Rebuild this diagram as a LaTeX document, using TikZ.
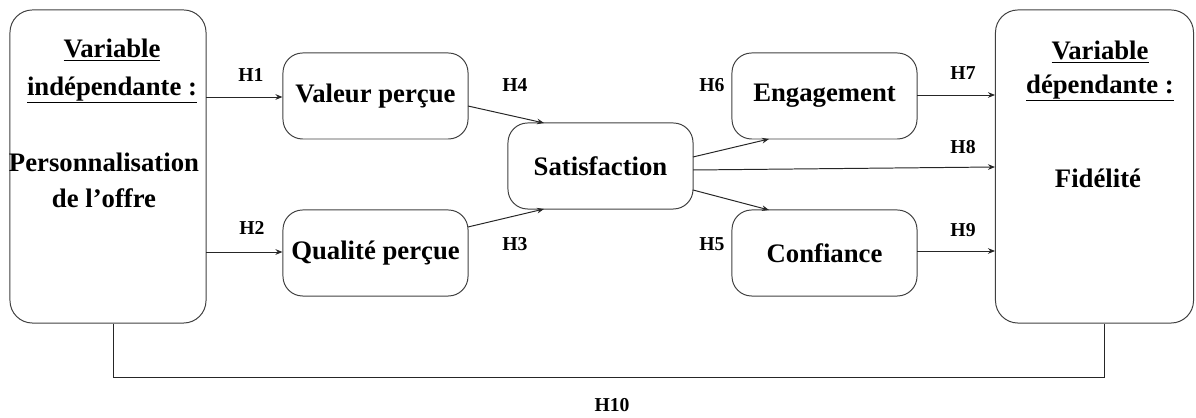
\documentclass[tikz,border=0pt]{standalone}
\usepackage{fontspec}
\setmainfont{Liberation Serif}
\usetikzlibrary{arrows.meta}
\begin{document}
\begin{tikzpicture}[x=0.025cm,y=-0.025cm,
  box/.style={draw=black!75,line width=0.7pt,rounded corners=14pt,inner sep=0pt},
  bigbox/.style={draw=black!75,line width=0.7pt,rounded corners=16pt,inner sep=0pt,minimum width=4.95cm,minimum height=7.825cm},
  smallbox/.style={box,minimum width=4.625cm,minimum height=2.15cm,font=\bfseries\fontsize{19}{22}\selectfont},
  txt/.style={font=\bfseries\fontsize{19}{22}\selectfont,inner sep=0pt},
  hlab/.style={font=\bfseries\fontsize{14}{16}\selectfont,inner sep=0pt},
  arr/.style={draw=black!85,line width=0.7pt,-{Stealth[length=5pt,width=4pt]}},
  lin/.style={draw=black!85,line width=0.7pt}]
\useasboundingbox (0,0) rectangle (1196,418);
% boxes
\node[bigbox,minimum width=4.9cm] (iv) at (108,166.5) {};
\node[bigbox] (dv) at (1094.5,166.5) {};
\node[smallbox] (val) at (375.5,96) {Valeur perçue};
\node[smallbox] (qual) at (375.5,253) {Qualité perçue};
\node[smallbox] (sat) at (600.5,166) {Satisfaction};
\node[smallbox] (eng) at (824.5,96) {Engagement};
\node[smallbox] (conf) at (824.5,253) {Confiance};
% texts in big boxes
\node[txt] (iv1) at (112,50) {\underline{Variable}};
\node[txt] (iv2) at (112,90) {\underline{indépendante :}};
\node[txt] (iv3) at (104,162) {Personnalisation};
\node[txt] (iv4) at (104,198) {de l’offre};
\node[txt] (dv1) at (1100,52) {\underline{Variable}};
\node[txt] (dv2) at (1100,88) {\underline{dépendante :}};
\node[txt] (dv3) at (1098,178) {Fidélité};
% coordinates
\coordinate (a1) at (206,97);
\coordinate (a2) at (206,252);
\coordinate (v1) at (468,106);
\coordinate (q1) at (468,227);
\coordinate (s1) at (544,123);
\coordinate (s2) at (544,209);
\coordinate (s3) at (693,157);
\coordinate (s4) at (693,170);
\coordinate (s5) at (693,190);
\coordinate (e1) at (769,139);
\coordinate (c1) at (769,210);
\coordinate (d1) at (995,167);
\coordinate (d2) at (995,95);
\coordinate (d3) at (995,251);
\coordinate (e2) at (917,95);
\coordinate (c2) at (917,251);
\coordinate (b1) at (113,323);
\coordinate (b2) at (113,377);
\coordinate (b3) at (1104,377);
\coordinate (b4) at (1104,323);
% arrows
\draw[arr] (a1) -- (val.west |- a1);
\draw[arr] (a2) -- (qual.west |- a2);
\draw[arr] (v1) -- (s1);
\draw[arr] (q1) -- (s2);
\draw[arr] (s3) -- (e1);
\draw[arr] (s4) -- (d1);
\draw[arr] (s5) -- (c1);
\draw[arr] (e2) -- (d2);
\draw[arr] (c2) -- (d3);
\draw[lin] (iv.south -| b1) -- (b2) -- (b3) -- (dv.south -| b4);
% labels
\node[hlab] (h1) at (251,75) {H1};
\node[hlab] (h2) at (252,228) {H2};
\node[hlab] (h4) at (515,85) {H4};
\node[hlab] (h3) at (515,244) {H3};
\node[hlab] (h6) at (712,85) {H6};
\node[hlab] (h5) at (712,244) {H5};
\node[hlab] (h7) at (963,73) {H7};
\node[hlab] (h8) at (963,147) {H8};
\node[hlab] (h9) at (963,230) {H9};
\node[hlab] (h10) at (612,405) {H10};
\end{tikzpicture}
\end{document}
